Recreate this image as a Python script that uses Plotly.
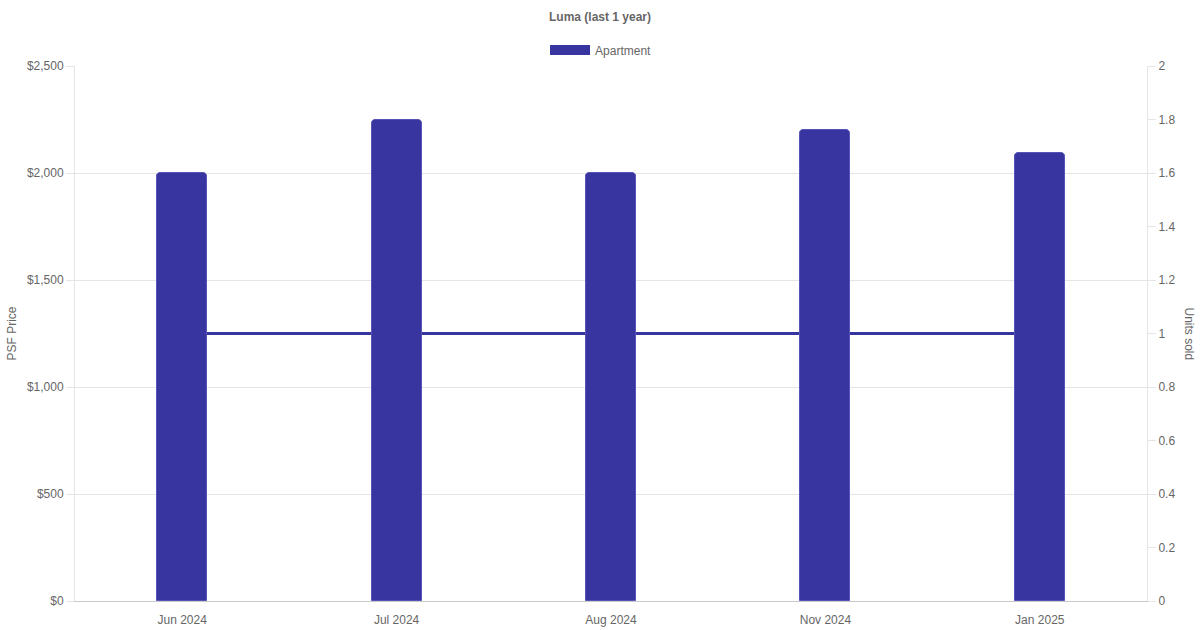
import plotly.graph_objects as go

months = ["Jun 2024", "Jul 2024", "Aug 2024", "Nov 2024", "Jan 2025"]
psf_price = [2000, 2250, 2000, 2200, 2095]
units_sold = [1, 1, 1, 1, 1]
left_ticks = [0, 500, 1000, 1500, 2000, 2500]
right_ticks = [0, 0.2, 0.4, 0.6, 0.8, 1, 1.2, 1.4, 1.6, 1.8, 2]

COLOR = "#3835a0"
FONT = "Liberation Sans, Arial, sans-serif"
GREY = "#666666"

fig = go.Figure()

# line on primary axis (units sold, right side) so bars draw above it
fig.add_trace(go.Scatter(
    x=months, y=units_sold, mode="lines", yaxis="y",
    line=dict(color=COLOR, width=3), showlegend=False, name="Units sold",
))
fig.add_trace(go.Bar(
    x=months, y=psf_price, yaxis="y2", name="Apartment",
    marker=dict(color=COLOR, line=dict(color="#5754b8", width=1), cornerradius=4),
    width=0.233, showlegend=False, legendgroup="apt",
))
# legend entry (wide box like the reference legend)
fig.add_trace(go.Scatter(
    x=[None], y=[None], mode="lines", yaxis="y2", name="Apartment",
    line=dict(color=COLOR, width=12), showlegend=True, legendgroup="apt",
))

fig.update_layout(
    width=1200, height=630,
    margin=dict(l=75, r=53, t=66, b=29, autoexpand=False),
    paper_bgcolor="white", plot_bgcolor="white",
    font=dict(family=FONT, size=12, color=GREY),
    title=dict(text="<b>Luma (last 1 year)</b>", x=0.5, xanchor="center",
               y=1 - 17 / 630, yanchor="middle", yref="container",
               font=dict(size=12, color=GREY, family=FONT)),
    legend=dict(orientation="h", x=0.4907, xanchor="center", y=1.03, yanchor="middle",
                font=dict(size=12, color=GREY), itemwidth=40),
    xaxis=dict(
        type="category", categoryorder="array", categoryarray=months,
        showgrid=False, showline=True, linecolor="#c9c9c9", linewidth=1,
        ticks="outside", ticklen=8, tickcolor="rgba(0,0,0,0)",
        tickfont=dict(size=12, color=GREY), zeroline=False, automargin=False,
    ),
    yaxis=dict(
        side="right", range=[0, 2], tickvals=right_ticks,
        ticktext=[f"{v:g}" for v in right_ticks],
        showgrid=False, showline=True, linecolor="#e5e5e5", linewidth=1,
        ticks="outside", ticklen=8, tickcolor="#e5e5e5",
        tickfont=dict(size=12, color=GREY), zeroline=False, automargin=False,
    ),
    yaxis2=dict(
        side="left", overlaying="y", range=[0, 2500], tickvals=left_ticks,
        ticktext=[f"${v:,}" for v in left_ticks],
        showgrid=True, gridcolor="#e5e5e5", gridwidth=1,
        showline=True, linecolor="#e5e5e5", linewidth=1,
        ticks="outside", ticklen=8, tickcolor="#e5e5e5",
        tickfont=dict(size=12, color=GREY), zeroline=False, automargin=False,
    ),
    bargap=0,
    annotations=[
        dict(text="PSF Price", textangle=-90, x=0, xref="paper", xanchor="center",
             xshift=-64, y=0.5, yref="paper", yanchor="middle", showarrow=False,
             font=dict(size=12, color=GREY)),
        dict(text="Units sold", textangle=90, x=1, xref="paper", xanchor="center",
             xshift=42, y=0.5, yref="paper", yanchor="middle", showarrow=False,
             font=dict(size=12, color=GREY)),
    ],
)

fig.write_html("out.html", config={"displayModeBar": False},
               post_script="document.body.style.margin='0px';")
